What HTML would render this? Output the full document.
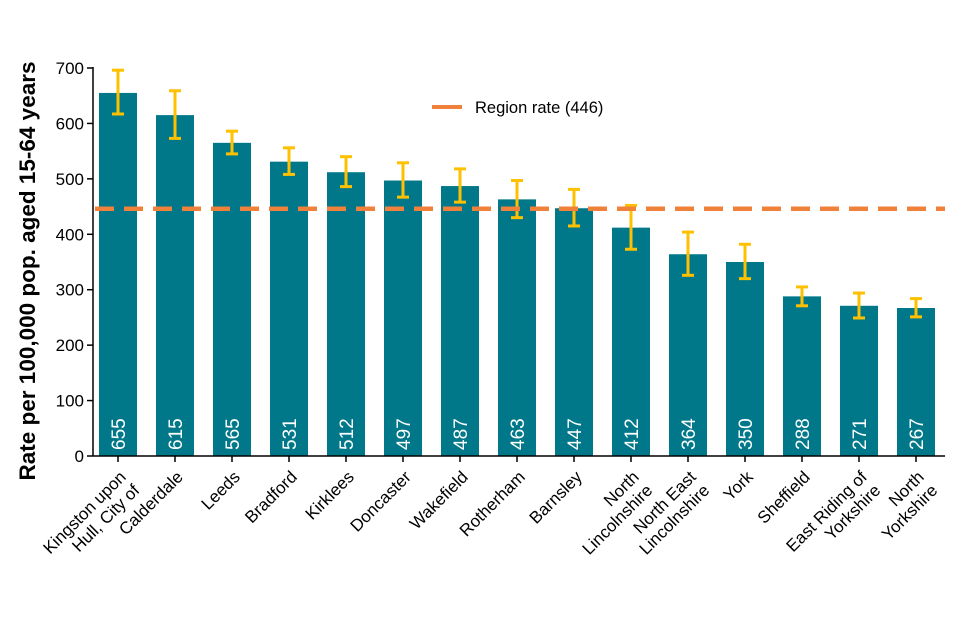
<!DOCTYPE html>
<html><head><meta charset="utf-8"><style>
html,body{margin:0;padding:0;background:#fff;}
svg{display:block;font-family:"Liberation Sans",Arial,sans-serif;}
</style></head><body>
<svg id="chart" width="960" height="640" viewBox="0 0 960 640">
<g id="bars"></g>
<g id="errs"></g>
<g id="xaxis"></g>
<g id="yaxis"></g>
<text transform="translate(35,271) rotate(-90)" text-anchor="middle" font-size="22.5" font-weight="bold" fill="#000">Rate per 100,000 pop. aged 15-64 years</text>
<g>
<line x1="432" y1="107" x2="462" y2="107" stroke="#F0813A" stroke-width="4"/>
<text x="475" y="113" font-size="16.5" fill="#000">Region rate (446)</text>
</g>
</svg>
<script>
const categories=[["Kingston upon","Hull, City of"],["Calderdale"],["Leeds"],["Bradford"],["Kirklees"],["Doncaster"],["Wakefield"],["Rotherham"],["Barnsley"],["North","Lincolnshire"],["North East","Lincolnshire"],["York"],["Sheffield"],["East Riding of","Yorkshire"],["North","Yorkshire"]];
const values=[655,615,565,531,512,497,487,463,447,412,364,350,288,271,267];
const lower=[617,573,545,508,486,467,458,430,415,373,326,320,271,249,251];
const upper=[696,659,586,556,540,529,518,497,481,452,404,382,305,294,284];
const regionRate=446;
const yTicks=[0,100,200,300,400,500,600,700];
const NS="http://www.w3.org/2000/svg";
const y0=456,yScale=388/700,x0=118,step=57,bw=38;
const y=v=>y0-v*yScale, x=i=>x0+i*step;
function mk(tag,attrs,parent){const e=document.createElementNS(NS,tag);for(const k in attrs)e.setAttribute(k,attrs[k]);parent.appendChild(e);return e;}
const gb=document.getElementById('bars'),ge=document.getElementById('errs'),gx=document.getElementById('xaxis'),gy=document.getElementById('yaxis'),svg=document.getElementById('chart');
values.forEach((v,i)=>{
 const r=mk('rect',{x:x(i)-bw/2,y:y(v),width:bw,height:y0-y(v),fill:'#00788A'},gb);
 
 
 const t=mk('text',{transform:`translate(${x(i)+7},450) rotate(-90)`,'font-size':19,fill:'#fff'},gb);
 t.textContent=v;
 
 
});
const rl=mk('line',{x1:95,x2:945,y1:y(regionRate),y2:y(regionRate),stroke:'#F0813A','stroke-width':4.5,'stroke-dasharray':'19,10'},svg);


values.forEach((v,i)=>{
 const g=mk('g',{stroke:'#FFC000','stroke-width':3,fill:'none'},ge);
 
 
 mk('line',{x1:x(i),x2:x(i),y1:y(lower[i]),y2:y(upper[i])},g);
 mk('line',{x1:x(i)-6,x2:x(i)+6,y1:y(lower[i]),y2:y(lower[i])},g);
 mk('line',{x1:x(i)-6,x2:x(i)+6,y1:y(upper[i]),y2:y(upper[i])},g);
});
mk('line',{x1:93,x2:945,y1:y0,y2:y0,stroke:'#000','stroke-width':1.5},gx);
categories.forEach((c,i)=>{
 mk('line',{x1:x(i),x2:x(i),y1:y0,y2:y0+6,stroke:'#000','stroke-width':1.5},gx);
 const t=mk('text',{transform:`translate(${x(i)+9},${478}) rotate(-45)`,'text-anchor':'end','font-size':17,fill:'#000'},gx);
 
 
 c.forEach((line,j)=>{const ts=mk('tspan',{x:0,y:j*19},t);ts.textContent=line;});
});
mk('line',{x1:93,x2:93,y1:y(700)-1,y2:y0,stroke:'#000','stroke-width':1.5},gy);
yTicks.forEach(v=>{
 mk('line',{x1:87,x2:93,y1:y(v),y2:y(v),stroke:'#000','stroke-width':1.5},gy);
 const t=mk('text',{x:84,y:y(v)+6,'text-anchor':'end','font-size':17,fill:'#000'},gy);
 t.textContent=v;
 
 
});
</script>
</body></html>
